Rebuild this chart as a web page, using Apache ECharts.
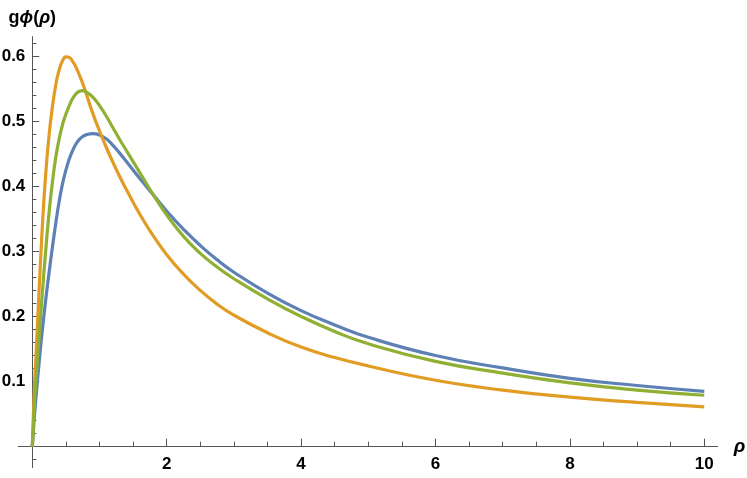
<!DOCTYPE html>
<html>
<head>
<meta charset="utf-8">
<title>g phi(rho)</title>
<script src="https://cdn.jsdelivr.net/npm/echarts@6/dist/echarts.min.js"></script>
<style>
  html, body { margin: 0; padding: 0; background: #fff; }
  #chart { width: 747px; height: 478px; }
</style>
</head>
<body>
<div id="chart"></div>
<script>
// values
let rho = [0, 0.025, 0.05, 0.1, 0.15, 0.2, 0.25, 0.3, 0.35, 0.4, 0.45, 0.5, 0.55, 0.6, 0.65, 0.7, 0.75, 0.8,
  0.9, 1.0, 1.1, 1.2, 1.3, 1.4, 1.6, 1.8, 2.0, 2.25, 2.5, 2.75, 3.0, 3.5, 4.0, 4.5, 5.0, 6.0, 7.0, 8.0, 9.0, 10.0];
let blue = [0, 0.038, 0.07, 0.128, 0.18, 0.226, 0.268, 0.307, 0.344, 0.377, 0.404, 0.425, 0.442, 0.455,
  0.465, 0.472, 0.4765, 0.479, 0.481, 0.479, 0.473, 0.463, 0.451, 0.438, 0.412, 0.387, 0.362, 0.334, 0.309,
  0.287, 0.268, 0.236, 0.209, 0.187, 0.168, 0.14, 0.121, 0.105, 0.094, 0.085];
let orange = [0, 0.075, 0.13, 0.238, 0.34, 0.42, 0.479, 0.523, 0.556, 0.579, 0.593, 0.599, 0.598, 0.592,
  0.583, 0.571, 0.558, 0.543, 0.512, 0.485, 0.46, 0.437, 0.415, 0.395, 0.357, 0.324, 0.295, 0.265, 0.24,
  0.219, 0.202, 0.175, 0.153, 0.137, 0.124, 0.102, 0.087, 0.076, 0.068, 0.061];
let green = [0, 0.055, 0.097, 0.167, 0.237, 0.302, 0.36, 0.407, 0.445, 0.473, 0.495, 0.511, 0.524, 0.535,
  0.542, 0.546, 0.547, 0.545, 0.537, 0.524, 0.508, 0.49, 0.472, 0.455, 0.421, 0.387, 0.356, 0.323, 0.297,
  0.276, 0.258, 0.227, 0.2, 0.177, 0.158, 0.131, 0.113, 0.098, 0.087, 0.079];

let xMajor = [2, 4, 6, 8, 10];
let xMinor = [0.5, 1, 1.5, 2.5, 3, 3.5, 4.5, 5, 5.5, 6.5, 7, 7.5, 8.5, 9, 9.5];
let yMajor = [0.1, 0.2, 0.3, 0.4, 0.5, 0.6];
let yMinor = [-0.02, 0.02, 0.04, 0.06, 0.08, 0.12, 0.14, 0.16, 0.18, 0.22, 0.24, 0.26, 0.28, 0.32, 0.34,
  0.36, 0.38, 0.42, 0.44, 0.46, 0.48, 0.52, 0.54, 0.56, 0.58, 0.62];

let xRange = [-0.21, 10.2];
let yRange = [-0.032, 0.63];

let grid = { left: 18.2, right: 29.3, top: 36.6, bottom: 10.5 };
let gridW = 747 - grid.left - grid.right;
let gridH = 478 - grid.top - grid.bottom;
// move the axes so they cross at (0, 0), like Mathematica's axes
let yAxisShift = -(0 - xRange[0]) / (xRange[1] - xRange[0]) * gridW;
let xAxisShift = -(0 - yRange[0]) / (yRange[1] - yRange[0]) * gridH;

let font = "'Liberation Sans', Arial, sans-serif";
let axisColor = '#555';

function pairs(ys) {
  return rho.map((x, i) => [x, ys[i]]);
}

function line(name, color, ys) {
  return {
    name: name,
    type: 'line',
    data: pairs(ys),
    showSymbol: false,
    smooth: 0.5,
    lineStyle: { color: color, width: 3.2 },
    itemStyle: { color: color }
  };
}

let chart = echarts.init(document.getElementById('chart'), null, { renderer: 'canvas' });

let option = {
  animation: false,
  backgroundColor: '#fff',
  grid: Object.assign({ containLabel: false, outerBoundsMode: 'none' }, grid),
  xAxis: [
    {
      type: 'value',
      min: xRange[0],
      max: xRange[1],
      offset: xAxisShift,
      name: 'ρ',
      nameLocation: 'end',
      nameGap: 16,
      nameTextStyle: { fontFamily: font, fontSize: 19, fontWeight: 'bold', fontStyle: 'italic', color: '#000' },
      axisLine: { onZero: false, lineStyle: { color: axisColor, width: 1 } },
      axisTick: { inside: true, length: 8, customValues: xMajor, lineStyle: { color: axisColor } },
      axisLabel: { customValues: xMajor, margin: 9, fontFamily: font, fontSize: 17, fontWeight: 'bold', color: '#000' },
      splitLine: { show: false }
    },
    {
      type: 'value',
      min: xRange[0],
      max: xRange[1],
      offset: xAxisShift,
      position: 'bottom',
      axisLine: { show: false, onZero: false },
      axisTick: { inside: true, length: 5, customValues: xMinor, lineStyle: { color: axisColor } },
      axisLabel: { show: false },
      splitLine: { show: false }
    }
  ],
  yAxis: [
    {
      type: 'value',
      min: yRange[0],
      max: yRange[1],
      offset: yAxisShift,
      name: '{b|g}{i|ϕ}{b|(}{i|ρ}{b|)}',
      nameLocation: 'end',
      nameGap: 10,
      nameTextStyle: {
        fontFamily: font,
        fontSize: 18,
        color: '#000',
        rich: {
          b: { fontFamily: font, fontSize: 18, fontWeight: 'bold', color: '#000' },
          i: { fontFamily: font, fontSize: 18, fontWeight: 'bold', fontStyle: 'italic', color: '#000' }
        }
      },
      axisLine: { onZero: false, lineStyle: { color: axisColor, width: 1 } },
      axisTick: { inside: true, length: 7, customValues: yMajor, lineStyle: { color: axisColor } },
      axisLabel: { customValues: yMajor, margin: 7, fontFamily: font, fontSize: 17, fontWeight: 'bold', color: '#000' },
      splitLine: { show: false }
    },
    {
      type: 'value',
      min: yRange[0],
      max: yRange[1],
      offset: yAxisShift,
      position: 'left',
      axisLine: { show: false, onZero: false },
      axisTick: { inside: true, length: 4, customValues: yMinor, lineStyle: { color: axisColor } },
      axisLabel: { show: false },
      splitLine: { show: false }
    }
  ],
  series: [
    line('a', '#5E81B5', blue),
    line('b', '#E19C24', orange),
    line('c', '#8FB032', green)
  ]
};

chart.setOption(option);
</script>
</body>
</html>
